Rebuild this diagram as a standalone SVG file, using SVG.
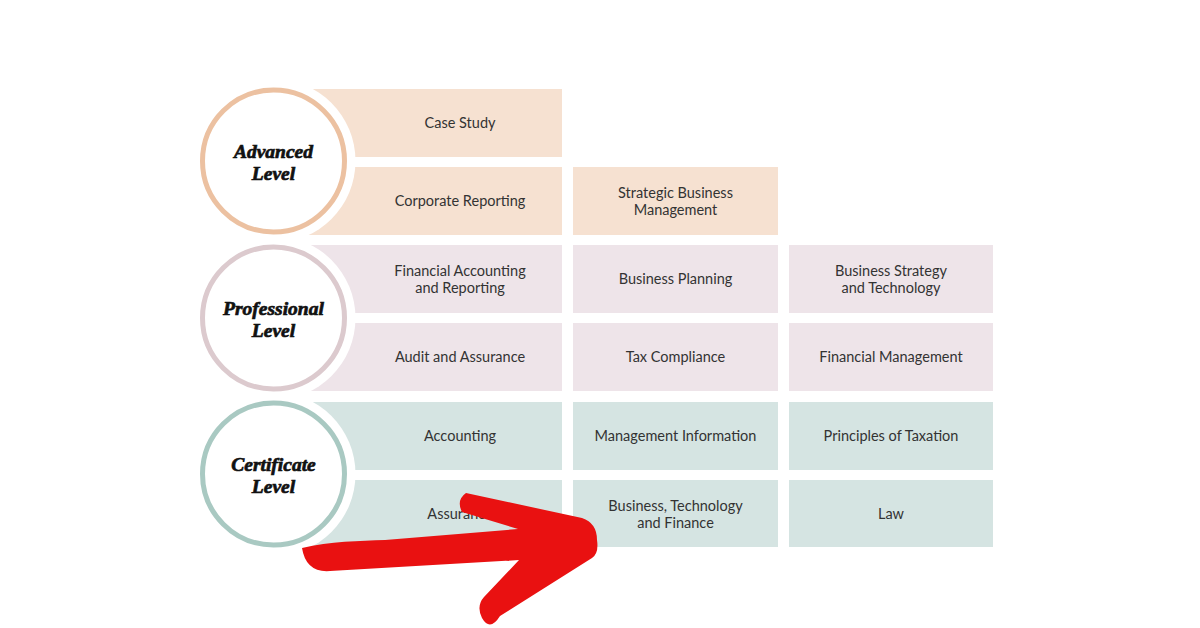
<svg xmlns="http://www.w3.org/2000/svg" width="1200" height="628" viewBox="0 0 1200 628">
<style>
.adv{fill:#f6e1d1}
.pro{fill:#eee4e9}
.cer{fill:#d5e4e2}
.t{font-family:Lato,"Noto Sans","Liberation Sans",sans-serif;font-size:14.5px;fill:#333;text-anchor:middle}
.lv{font-family:"Liberation Serif","DejaVu Serif",serif;font-weight:bold;font-style:italic;font-size:19.5px;fill:#111;stroke:#111;stroke-width:0.7px;text-anchor:middle}
.halo{fill:#fff}
.ring{fill:#fff;stroke-width:5}
</style>
<rect width="1200" height="628" fill="#fff"/>
<g id="row-advanced">
<g id="case-study"><rect class="adv" x="300" y="89" width="262" height="68"/><text class="t" x="460" y="128">Case Study</text></g>
<g id="corporate-reporting"><rect class="adv" x="300" y="167" width="262" height="68"/><text class="t" x="460" y="206">Corporate Reporting</text></g>
<g id="strategic-business-management"><rect class="adv" x="573" y="167" width="205" height="68"/><text class="t" x="675.5" y="198">Strategic Business</text><text class="t" x="675.5" y="215">Management</text></g>
</g>
<g id="row-professional">
<g id="financial-accounting"><rect class="pro" x="300" y="245" width="262" height="68"/><text class="t" x="460" y="276">Financial Accounting</text><text class="t" x="460" y="293">and Reporting</text></g>
<g id="business-planning"><rect class="pro" x="573" y="245" width="205" height="68"/><text class="t" x="675.5" y="284">Business Planning</text></g>
<g id="business-strategy"><rect class="pro" x="789" y="245" width="204" height="68"/><text class="t" x="891" y="276">Business Strategy</text><text class="t" x="891" y="293">and Technology</text></g>
<g id="audit-assurance"><rect class="pro" x="300" y="323" width="262" height="68"/><text class="t" x="460" y="362">Audit and Assurance</text></g>
<g id="tax-compliance"><rect class="pro" x="573" y="323" width="205" height="68"/><text class="t" x="675.5" y="362">Tax Compliance</text></g>
<g id="financial-management"><rect class="pro" x="789" y="323" width="204" height="68"/><text class="t" x="891" y="362">Financial Management</text></g>
</g>
<g id="row-certificate">
<g id="accounting"><rect class="cer" x="300" y="402" width="262" height="68"/><text class="t" x="460" y="441">Accounting</text></g>
<g id="management-information"><rect class="cer" x="573" y="402" width="205" height="68"/><text class="t" x="675.5" y="441">Management Information</text></g>
<g id="principles-taxation"><rect class="cer" x="789" y="402" width="204" height="68"/><text class="t" x="891" y="441">Principles of Taxation</text></g>
<g id="assurance"><rect class="cer" x="300" y="480" width="262" height="67"/><text class="t" x="460" y="519">Assurance</text></g>
<g id="business-technology-finance"><rect class="cer" x="573" y="480" width="205" height="67"/><text class="t" x="675.5" y="511">Business, Technology</text><text class="t" x="675.5" y="528">and Finance</text></g>
<g id="law"><rect class="cer" x="789" y="480" width="204" height="67"/><text class="t" x="891" y="519">Law</text></g>
</g>
<g id="level-advanced">
<circle class="halo" cx="273.5" cy="161" r="82"/>
<circle class="ring" cx="273.5" cy="161" r="71" stroke="#ecc1a1"/>
<text class="lv" x="273.5" y="158">Advanced</text><text class="lv" x="273.5" y="180">Level</text>
</g>
<g id="level-professional">
<circle class="halo" cx="273.5" cy="318" r="82"/>
<circle class="ring" cx="273.5" cy="318" r="71" stroke="#dccace"/>
<text class="lv" x="273.5" y="315">Professional</text><text class="lv" x="273.5" y="337">Level</text>
</g>
<g id="level-certificate">
<circle class="halo" cx="273.5" cy="474" r="82"/>
<circle class="ring" cx="273.5" cy="474" r="71" stroke="#a9c9c2"/>
<text class="lv" x="273.5" y="471">Certificate</text><text class="lv" x="273.5" y="493">Level</text>
</g>
<g id="connectors">
<path id="red-arrow" fill="#e91111" d="M302,548 C330,541 360,541 385,540 L518,529 L462,512 Q456,500 466,493 L582,518 Q597,523 597,540 Q599,553 592,558 L500,616 Q490,632 482,618 Q476,606 484,597 L519,560 L330,571 Q306,573 302,548 Z"/>
</g>
</svg>
